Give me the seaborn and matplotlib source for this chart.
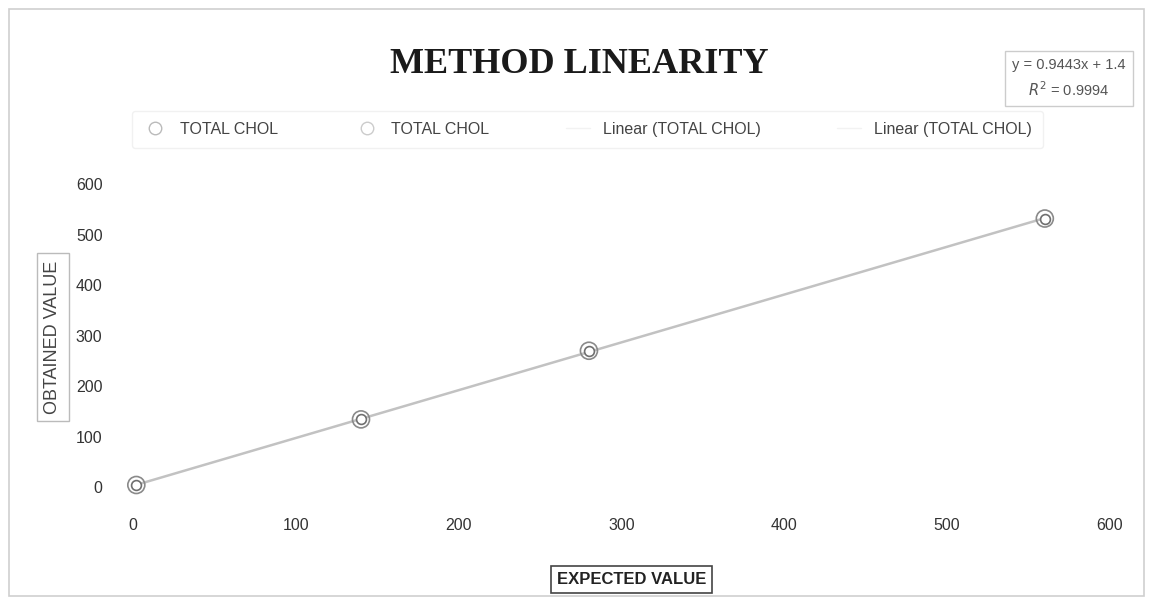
import numpy as np
import pandas as pd
import matplotlib.pyplot as plt
import seaborn as sns
from matplotlib.lines import Line2D
from matplotlib.patches import Rectangle

# data
expected = [2, 140, 280, 560]
obtained = [4, 134, 270, 532]
series_names = ["TOTAL CHOL", "TOTAL CHOL", "Linear (TOTAL CHOL)", "Linear (TOTAL CHOL)"]
x_ticks = [0, 100, 200, 300, 400, 500, 600]
y_ticks = [0, 100, 200, 300, 400, 500, 600]
eq_text = "y = 0.9443x + 1.4\n$R^2$ = 0.9994"

df = pd.DataFrame({"expected": expected, "obtained": obtained})

sns.set_style("white")
plt.rcParams["font.family"] = ["Liberation Sans", "DejaVu Sans"]

fig = plt.figure(figsize=(11.52, 6.02), dpi=100)
ax = fig.add_axes([0.1155, 0.191, 0.848, 0.503])

# trendline
slope, icpt = np.polyfit(df["expected"], df["obtained"], 1)
xs = np.array([df["expected"].min(), df["expected"].max()])
ax.plot(xs, slope * xs + icpt, color="#c2c2c2", lw=1.8, zorder=1, clip_on=False)

# two overlapping series -> double ring markers
sns.scatterplot(data=df, x="expected", y="obtained", ax=ax, s=150, marker="o",
                facecolor="none", edgecolor="#8a8a8a", linewidth=1.2, zorder=3,
                clip_on=False)
sns.scatterplot(data=df, x="expected", y="obtained", ax=ax, s=50, marker="o",
                facecolor="white", edgecolor="#6f6f6f", linewidth=1.2, zorder=4,
                clip_on=False)

ax.set_xlim(0, 600)
ax.set_ylim(0, 600)
ax.set_xticks(x_ticks)
ax.set_yticks(y_ticks)
ax.tick_params(axis="x", length=0, pad=22, labelsize=11.5, labelcolor="#333333")
ax.tick_params(axis="y", length=0, pad=22, labelsize=11.5, labelcolor="#333333")
for s in ax.spines.values():
    s.set_visible(False)
ax.set_xlabel("")
ax.set_ylabel("")

# title
fig.text(0.503, 0.893, "METHOD LINEARITY", ha="center", va="center",
         fontsize=26, fontweight="bold", family=["Liberation Serif", "DejaVu Serif"],
         color="#1a1a1a")

# axis titles in boxes
fig.text(0.548, 0.037, "EXPECTED VALUE", ha="center", va="center", fontsize=12,
         fontweight="bold", color="#222222",
         bbox=dict(boxstyle="square,pad=0.35", fc="white", ec="#444444", lw=1.2))
fig.text(0.046, 0.44, "OBTAINED VALUE", ha="center", va="center", fontsize=13,
         rotation=90, color="#444444",
         bbox=dict(boxstyle="square,pad=0.4", fc="white", ec="#bbbbbb", lw=1))

# equation box
fig.text(0.928, 0.87, eq_text, ha="center", va="center", fontsize=10.5,
         color="#555555", linespacing=1.5,
         bbox=dict(boxstyle="square,pad=0.5", fc="white", ec="#cccccc", lw=1))

# legend
handles = [
    Line2D([], [], ls="none", marker="o", ms=9, mfc="none", mec="#bbbbbb"),
    Line2D([], [], ls="none", marker="o", ms=9, mfc="none", mec="#cccccc"),
    Line2D([], [], color="#f2f2f2", lw=1),
    Line2D([], [], color="#f2f2f2", lw=1),
]
leg = fig.legend(handles, series_names, loc="center", bbox_to_anchor=(0.51, 0.785),
                 ncol=4, frameon=True, fontsize=11.5, columnspacing=4.8,
                 handlelength=1.5, borderpad=0.7)
leg.get_frame().set_edgecolor("#eeeeee")
leg.get_frame().set_linewidth(1)
for t in leg.get_texts():
    t.set_color("#444444")

# outer chart border
fig.patches.append(Rectangle((0.008, 0.01), 0.985, 0.975, transform=fig.transFigure,
                             fill=False, ec="#cfcfcf", lw=1.2))

fig.savefig("out.png", dpi=100)
